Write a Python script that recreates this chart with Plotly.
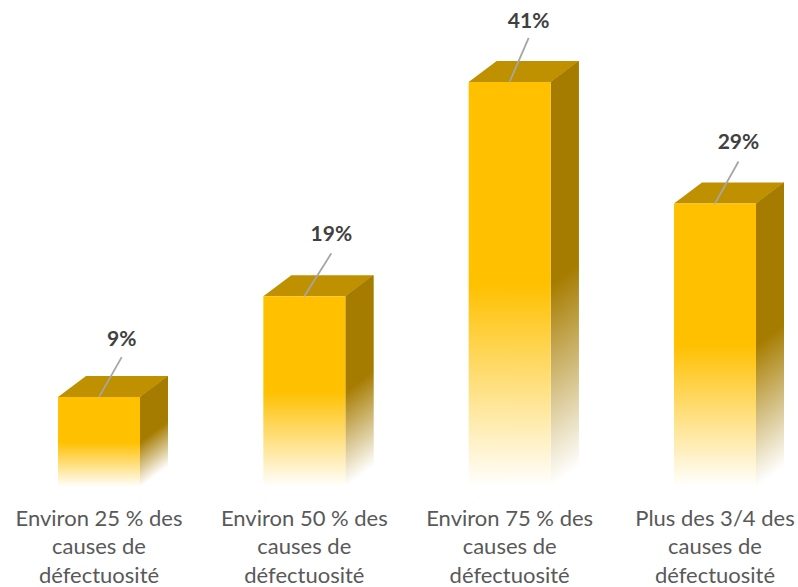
"""Stacked 3D-look columns: causes de defectuosite"""
import plotly.graph_objects as go

# data
categories = [
    ['Environ 25 % des', 'causes de', 'défectuosité'],
    ['Environ 50 % des', 'causes de', 'défectuosité'],
    ['Environ 75 % des', 'causes de', 'défectuosité'],
    ['Plus des 3/4 des', 'causes de', 'défectuosité'],
]
heights = [9.1, 19.3, 41.0, 28.7]
labels = ['9%', '19%', '41%', '29%']

# plot units: one column step across, one percent up
PX_X = 205.33
PX_Y = 9.88
BAR_W = 82 / PX_X
DEPTH_X = 28 / PX_X
DEPTH_Y = 21 / PX_Y
STRIPS = 28

# where each dragged label sits, in px from the top middle of its column
LEADER_DX = [22.7, 27, 19, 23.5]
LEADER_DY = [40, 43, 44, 42]
LABEL_DY = [56, 61, 59.5, 59.5]

FRONT = 'rgb(255,192,0)'
SIDE = 'rgb(166,124,0)'
TOP = '#BF9000'


def fade(color):
    """White at the bottom, solid from half height up"""
    return [[0, 'rgb(255,255,255)'], [0.5, color], [1, color]]


def poly(xs, ys, **kw):
    return go.Scatter(x=xs, y=ys, mode='lines', fill='toself', line={'width': 0},
                      hoverinfo='skip', showlegend=False, **kw)


fig = go.Figure()

for i, h in enumerate(heights):
    x0 = i - BAR_W / 2
    x1 = i + BAR_W / 2

    # side face is cut in thin strips so the fade follows the slanted bottom
    dx = DEPTH_X / STRIPS
    for k in range(STRIPS):
        over = min(3, STRIPS - k)  # overlap hides seams between strips
        xa = x1 + k * dx
        xb = xa + dx * over
        lift_a = DEPTH_Y * k / STRIPS
        lift_b = DEPTH_Y * (k + over) / STRIPS
        fig.add_trace(poly(
            [xa, xb, xb, xa, xa],
            [lift_a, lift_b, h + lift_b, h + lift_a, lift_a],
            fillgradient={'type': 'vertical', 'colorscale': fade(SIDE),
                          'start': lift_a, 'stop': h + lift_a},
        ))

    # top face
    fig.add_trace(poly(
        [x0, x1, x1 + DEPTH_X, x0 + DEPTH_X, x0],
        [h, h, h + DEPTH_Y, h + DEPTH_Y, h],
        fillcolor=TOP,
    ))

    # front face
    fig.add_trace(poly(
        [x0, x1, x1, x0, x0],
        [0, 0, h, h, 0],
        fillgradient={'type': 'vertical', 'colorscale': fade(FRONT),
                      'start': 0, 'stop': h},
    ))

    # leader line and value
    label_x = i + LEADER_DX[i] / PX_X
    fig.add_trace(go.Scatter(
        x=[i, label_x], y=[h, h + LEADER_DY[i] / PX_Y], mode='lines',
        line={'color': '#A6A6A6', 'width': 1.8},
        hoverinfo='skip', showlegend=False,
    ))
    fig.add_trace(go.Scatter(
        x=[label_x], y=[h + LABEL_DY[i] / PX_Y], mode='text',
        text=[f'<b>{labels[i]}</b>'], textposition='middle center',
        textfont={'family': 'Lato', 'size': 21, 'color': '#404040'},
        hoverinfo='skip', showlegend=False,
    ))

    # category text, one row at a time for the wide line spacing
    for row, line in enumerate(categories[i]):
        fig.add_trace(go.Scatter(
            x=[i], y=[-(33 + row * 28.5) / PX_Y], mode='text', text=[line],
            textposition='middle center',
            textfont={'family': 'Lato', 'size': 22, 'color': '#595959'},
            hoverinfo='skip', showlegend=False,
        ))

fig.update_layout(
    width=798, height=587,
    margin={'l': 0, 'r': 0, 't': 0, 'b': 0},
    paper_bgcolor='white', plot_bgcolor='white',
    xaxis={'visible': False, 'range': [-99 / PX_X, 699 / PX_X]},
    yaxis={'visible': False, 'range': [-100 / PX_Y, 487 / PX_Y]},
)

# page margin would push the figure 8px off
fig.write_html('out.html', config={'displayModeBar': False},
               post_script="document.body.style.margin='0';document.body.style.overflow='hidden';")
